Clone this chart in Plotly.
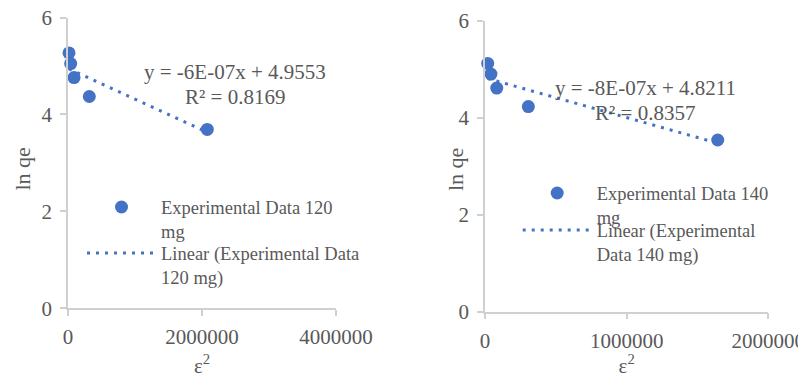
import numpy as np
import plotly.graph_objects as go

# ---- data ----
x120 = [15000, 40000, 90000, 318000, 2079000]
y120 = [5.27, 5.05, 4.76, 4.37, 3.69]
x140 = [19000, 42000, 83000, 306000, 1643000]
y140 = [5.12, 4.90, 4.61, 4.23, 3.54]

name120 = "Experimental Data 120<br>mg"
trend120 = "Linear (Experimental Data<br>120 mg)"
name140 = "Experimental Data 140<br>mg"
trend140 = "Linear (Experimental<br>Data 140 mg)"

eq120 = ["y = -6E-07x + 4.9553", "R² = 0.8169"]
eq140 = ["y = -8E-07x + 4.8211", "R² = 0.8357"]

xticks120 = [0, 2000000, 4000000]
xticks140 = [0, 1000000, 2000000]
yticks = [0, 2, 4, 6]
x_title = "ε<sup>2</sup>"
y_title = "ln qe"

BLUE = "#4472C4"
GRAY_TXT = "#595959"
AXIS = "#D0D0D0"
FONT = "Times New Roman, Liberation Serif, DejaVu Serif, serif"

# page body has an 8px margin: figure is drawn 8px in from the window edge
OFF = 8
W, H = 806 - OFF, 378 - OFF


def px(x):
    return (x - OFF) / W


def py(y):
    return 1 - (y - OFF) / H


def fit_line(x, y):
    k, b = np.polyfit(x, y, 1)
    xs = [min(x), max(x)]
    return xs, [k * v + b for v in xs]


fig = go.Figure()

tx, ty = fit_line(x120, y120)
fig.add_trace(go.Scatter(x=x120, y=y120, mode="markers", name=name120,
                         marker=dict(color=BLUE, size=13), cliponaxis=False,
                         xaxis="x", yaxis="y", legend="legend"))
fig.add_trace(go.Scatter(x=tx, y=ty, mode="lines", name=trend120,
                         line=dict(color=BLUE, width=3, dash="3px,6px"),
                         xaxis="x", yaxis="y", legend="legend2"))

tx2, ty2 = fit_line(x140, y140)
fig.add_trace(go.Scatter(x=x140, y=y140, mode="markers", name=name140,
                         marker=dict(color=BLUE, size=13), cliponaxis=False,
                         xaxis="x2", yaxis="y2", legend="legend3"))
fig.add_trace(go.Scatter(x=tx2, y=ty2, mode="lines", name=trend140,
                         line=dict(color=BLUE, width=3, dash="3px,6px"),
                         xaxis="x2", yaxis="y2", legend="legend4"))

TICKFONT = dict(family=FONT, size=21, color=GRAY_TXT)


def xax(x0, x1, rng, ticks, anchor):
    return dict(domain=[px(x0), px(x1)], range=rng, anchor=anchor, automargin=False,
                tickvals=ticks, ticktext=[str(t) for t in ticks],
                showline=True, linecolor=AXIS, linewidth=1.5,
                ticks="outside", ticklen=6, tickcolor=AXIS, tickwidth=1.5,
                showgrid=False, zeroline=False, ticklabelstandoff=3,
                ticklabeloverflow="allow", tickfont=TICKFONT,
                title=dict(text=x_title, standoff=11,
                           font=dict(family=FONT, size=21, color=GRAY_TXT)))


def yax(y0, y1, anchor):
    return dict(domain=[py(y0), py(y1)], range=[0, 6], anchor=anchor, automargin=False,
                tickvals=yticks, ticktext=[str(t) for t in yticks],
                showline=True, linecolor=AXIS, linewidth=1.5,
                ticks="outside", ticklen=6, tickcolor=AXIS, tickwidth=1.5,
                showgrid=False, zeroline=False, ticklabelstandoff=4,
                ticklabeloverflow="allow", tickfont=TICKFONT)


leg_font = dict(family=FONT, size=18.5, color=GRAY_TXT)


def leg(x_line_start, y_first_line):
    return dict(x=px(x_line_start - 4), y=py(y_first_line - 18.5),
                xanchor="left", yanchor="top", bgcolor="rgba(0,0,0,0)",
                font=leg_font, itemwidth=69, valign="top", tracegroupgap=0)


fig.update_layout(
    width=W, height=H,
    margin=dict(l=0, r=0, t=0, b=0, autoexpand=False),
    paper_bgcolor="white", plot_bgcolor="white",
    font=dict(family=FONT, color=GRAY_TXT),
    xaxis=xax(68, 336, [0, 4000000], xticks120, "y"),
    yaxis=yax(308.3, 17.5, "x"),
    xaxis2=xax(485, 768.3, [0, 2000000], xticks140, "y2"),
    yaxis2=yax(311.7, 20.7, "x2"),
    legend=leg(86, 207),
    legend2=leg(86, 253),
    legend3=leg(521.7, 193),
    legend4=leg(521.7, 230),
    showlegend=True,
)

# y-axis titles
for (tx_, ty_) in [(22, 169.5), (455, 170)]:
    fig.add_annotation(text=y_title, x=px(tx_), y=py(ty_), xref="paper", yref="paper",
                       xanchor="center", yanchor="middle", textangle=-90, showarrow=False,
                       font=dict(family=FONT, size=22, color=GRAY_TXT))

eq_font = dict(family=FONT, size=21, color=GRAY_TXT)
for txt, (ex, ey) in zip(eq120, [(235, 71.7), (235, 96.7)]):
    fig.add_annotation(text=txt, x=px(ex), y=py(ey), xref="paper", yref="paper",
                       xanchor="center", yanchor="middle", showarrow=False, font=eq_font)
for txt, (ex, ey) in zip(eq140, [(645, 88.3), (645, 113.3)]):
    fig.add_annotation(text=txt, x=px(ex), y=py(ey), xref="paper", yref="paper",
                       xanchor="center", yanchor="middle", showarrow=False, font=eq_font)

fig.write_html("out.html")
